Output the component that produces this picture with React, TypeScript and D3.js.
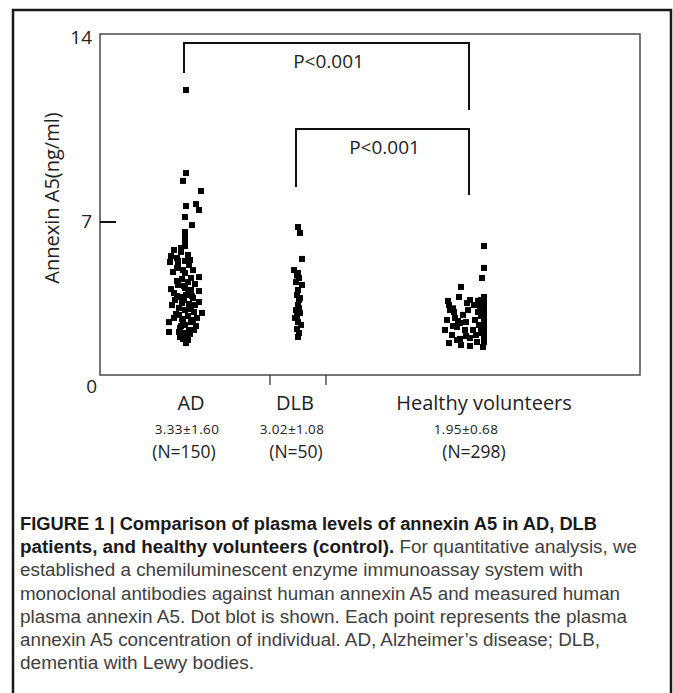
import React from 'react';
import * as d3 from 'd3';

// categories and summary text
const groups = ['AD', 'DLB', 'Healthy volunteers'];
const groupMeans = ['3.33', '3.02', '1.95'];
const groupSd = ['1.60', '1.08', '0.68'];
const groupN = ['(N=150)', '(N=50)', '(N=298)'];
const yTicks = [0, 7];
const yTopLabel = '14';
const yTitle = 'Annexin A5(ng/ml)';

// individual plasma values (ng/ml) and horizontal jitter (-1..1 of half column)
const adValues = [
  13.04, 9.24, 8.88, 8.42, 7.73, 7.82, 7.55, 7.23, 6.86, 6.54, 6.27, 6.04, 5.81, 5.72, 5.63,
  5.44, 5.35, 5.49, 5.22, 5.03, 5.17, 4.90, 4.80, 4.67, 4.48, 4.39, 4.25, 4.12, 3.98, 3.89,
  3.75, 3.84, 3.66, 3.57, 3.52, 3.43, 3.34, 3.20, 3.25, 3.07, 2.97, 2.88, 2.84, 2.79, 2.70,
  2.56, 2.61, 2.42, 2.42, 2.29, 2.24, 2.15, 2.06, 1.92, 1.78, 1.65, 1.46, 1.97, 5.22, 5.26,
  4.80, 4.71, 4.44, 4.30, 4.16, 4.07, 3.93, 3.80, 3.61, 3.20, 3.29, 3.43, 3.02, 2.75, 2.52,
  2.61, 2.42, 2.06, 1.97, 1.60, 1.74, 1.88, 5.90, 5.03, 3.61, 2.24,
];
const adJitter = [
  0, 0, -0.15, 0.75, 0, 0.5, 0.65, -0.05, 0.3, -0.05, -0.05, -0.05, -0.25, -0.6, -0.25,
  -0.75, -0.45, 0.1, -0.05, 0.15, -0.8, -0.45, 0.35, -0.05, 0.65, -0.2, 0.1, -0.4, -0.05, 0.25,
  -0.6, 0.65, 0, -0.25, 0.35, -0.1, 0.65, -0.7, 0.15, -0.35, -0.05, 0.4, 0.8, -0.5, 0.1,
  -0.2, 0.55, -0.85, 0.25, -0.05, 0.5, -0.3, 0.15, -0.1, 0.05, -0.15, 0, -0.85, -0.4, 0.2,
  -0.15, -0.65, 0.25, -0.45, 0.45, -0.1, -0.75, 0.1, -0.45, 0.45, -0.2, -0.55, 0.25, -0.35, 0.35,
  -0.6, -0.15, 0.4, -0.35, 0.1, -0.3, 0.2, -0.05, -0.4, 0.3, -0.25,
];

const dlbValues = [
  6.77, 6.50, 5.31, 4.80, 4.67, 4.44, 4.12, 3.89, 3.66, 3.43, 3.20, 2.97, 2.84, 2.61, 2.42,
  2.29, 2.10, 1.92, 1.74, 4.25, 3.52, 2.70, 4.55, 3.05,
];
const dlbJitter = [
  0, 0.1, 0.2, -0.2, 0, 0.05, 0.2, 0, -0.05, 0.05, 0, -0.1, 0.1, -0.15, 0,
  0.15, -0.05, 0.05, 0, -0.1, 0.1, -0.05, -0.05, 0.05,
];

const healthyValues = [
  5.90, 4.90, 4.44, 4.03, 3.57, 3.39, 3.39, 3.43,
  3.57, 3.34, 3.11, 2.88, 2.65, 2.42, 2.20, 1.97, 1.74, 1.51, 1.28, 3.43, 3.16,
  2.97, 2.61, 2.52, 2.38, 2.06, 1.83, 1.65, 1.46, 1.33, 2.97, 2.06, 2.52, 1.69, 2.20,
  2.75, 3.20, 2.88, 3.20, 2.88, 2.42, 2.06, 1.51, 1.37, 2.24, 3.29, 2.29, 1.83, 1.60,
  2.70, 2.15, 1.92, 3.05, 2.47, 1.78,
];
const healthyJitter = [
  0.75, 0.75, 0.65, -0.4, -0.5, -1.05, 0.45, 0.05,
  0.75, 0.75, 0.75, 0.75, 0.75, 0.75, 0.75, 0.75, 0.75, 0.75, 0.7, 0.6, 0.55,
  -0.95, -0.7, -1.1, -0.45, -1.2, -0.85, -0.45, -1.0, 0.05, -0.05, -0.2, 0.3, 0.05, -0.6,
  -0.3, 0.25, 0.45, -1.0, -0.75, -0.15, 0.2, 0.4, -0.4, -0.8, -0.1, 0.5, 0.35, -0.6,
  0.6, 0.6, 0.6, -0.8, -0.55, -0.15,
];

// significance brackets: value levels of top bar and both leg ends
const brackets = [
  { from: 'AD', to: 'Healthy volunteers', label: 'P<0.001', top: 15.19, leftEnd: 13.82, rightEnd: 12.12 },
  { from: 'DLB', to: 'Healthy volunteers', label: 'P<0.001', top: 11.25, leftEnd: 8.6, rightEnd: 8.23 },
];

const captionLines = [
  { bold: 'FIGURE 1 | Comparison of plasma levels of annexin A5 in AD, DLB', rest: '', w: 577 },
  { bold: 'patients, and healthy volunteers (control).', rest: ' For quantitative analysis, we', w: 617 },
  { bold: '', rest: 'established a chemiluminescent enzyme immunoassay system with', w: 563 },
  { bold: '', rest: 'monoclonal antibodies against human annexin A5 and measured human', w: 600 },
  { bold: '', rest: 'plasma annexin A5. Dot blot is shown. Each point represents the plasma', w: 607 },
  { bold: '', rest: 'annexin A5 concentration of individual. AD, Alzheimer\u2019s disease; DLB,', w: 580 },
  { bold: '', rest: 'dementia with Lewy bodies.', w: 234 },
];

const W = 673;
const H = 693;
const plot = { left: 100, right: 640, top: 34, bottom: 375 };
const chartFont = '"Open Sans", "Noto Sans", sans-serif';
const captionFont = '"Liberation Sans Narrow", "Liberation Sans", Arial, sans-serif';

const App = () => {
  const x = d3.scaleOrdinal<string, number>().domain(groups).range([186, 298, 469]);
  const labelX = d3.scaleOrdinal<string, number>().domain(groups).range([191, 295, 484]);
  const statX = d3.scaleOrdinal<string, number>().domain(groups).range([187, 292, 466]);
  const nX = d3.scaleOrdinal<string, number>().domain(groups).range([184, 296, 474]);
  const y = d3.scaleLinear().domain([0, 7]).range([plot.bottom, 222]);
  const jitter = d3.scaleLinear().domain([-1, 1]).range([-20, 20]);
  const sz = 6;

  const series = [
    { g: 'AD', v: adValues, j: adJitter },
    { g: 'DLB', v: dlbValues, j: dlbJitter },
    { g: 'Healthy volunteers', v: healthyValues, j: healthyJitter },
  ];
  const points = series.flatMap(s => s.v.map((v, i) => ({ g: s.g, v, j: s.j[i] })));

  const sepTicks = [x('DLB') - 28, x('DLB') + 28];

  return (
    <svg width={W} height={H} style={{ position: 'absolute', left: 0, top: 0, background: '#fff' }}>
      {/* outer figure frame */}
      <path d={`M13,${H + 5}V10H671V${H + 5}`} fill="none" stroke="#1a1a1a" strokeWidth={2.5} />

      {/* plot box */}
      <rect x={plot.left} y={plot.top} width={plot.right - plot.left} height={plot.bottom - plot.top}
        fill="none" stroke="#555" strokeWidth={1.6} />

      {/* y ticks */}
      {yTicks.filter(t => t > 0).map(t => (
        <line key={t} x1={plot.left} x2={plot.left + 16} y1={y(t)} y2={y(t)} stroke="#111" strokeWidth={2} />
      ))}
      {yTicks.map(t => (
        <text key={'l' + t} x={t === 0 ? 97 : 92} y={t === 0 ? 393 : y(t) + 6} textAnchor="end"
          fontFamily={chartFont} fontSize={19} fill="#222">{t}</text>
      ))}
      <text x={92} y={plot.top + 10} textAnchor="end" fontFamily={chartFont} fontSize={19} fill="#222">{yTopLabel}</text>
      <text transform={`translate(59,198) rotate(-90)`} textAnchor="middle" fontFamily={chartFont}
        fontSize={20} fill="#222">{yTitle}</text>

      {/* separator ticks under axis */}
      {sepTicks.map((t, i) => (
        <line key={i} x1={t} x2={t} y1={plot.bottom} y2={plot.bottom + 10} stroke="#333" strokeWidth={1.3} />
      ))}

      {/* group labels */}
      {groups.map((g, i) => (
        <g key={g} fontFamily={chartFont} fill="#222" textAnchor="middle">
          <text x={labelX(g)} y={410} fontSize={20}>{g}</text>
          <text x={statX(g)} y={434} fontSize={13.5} letterSpacing={0.4}>
            {`${groupMeans[i]}\u00B1${groupSd[i]}`}
          </text>
          <text x={nX(g)} y={458} fontSize={17.5}>{groupN[i]}</text>
        </g>
      ))}

      {/* brackets */}
      {brackets.map((b, i) => {
        const x1 = x(b.from) - 2;
        const x2 = x(b.to);
        return (
          <g key={i}>
            <path d={`M${x1},${y(b.leftEnd)}V${y(b.top)}H${x2}V${y(b.rightEnd)}`} fill="none" stroke="#111" strokeWidth={2} />
            <text x={(x1 + x2) / 2 + 2} y={y(b.top) + 25} textAnchor="middle" fontFamily={chartFont}
              fontSize={19} fill="#222">{b.label}</text>
          </g>
        );
      })}

      {/* dots */}
      {points.map((p, i) => (
        <rect key={i} x={x(p.g) + jitter(p.j) - sz / 2} y={y(p.v) - sz / 2} width={sz} height={sz} fill="#000" />
      ))}

      {/* caption */}
      {captionLines.map((l, i) => (
        <text key={i} x={20} y={530 + i * 23.2} fontFamily={captionFont} fontSize={17.5}
          textLength={l.w} lengthAdjust="spacingAndGlyphs">
          {l.bold && <tspan fontWeight="bold" fill="#1a1a1a">{l.bold}</tspan>}
          {l.rest && <tspan fill="#404040">{l.rest}</tspan>}
        </text>
      ))}
    </svg>
  );
};

export default App;
